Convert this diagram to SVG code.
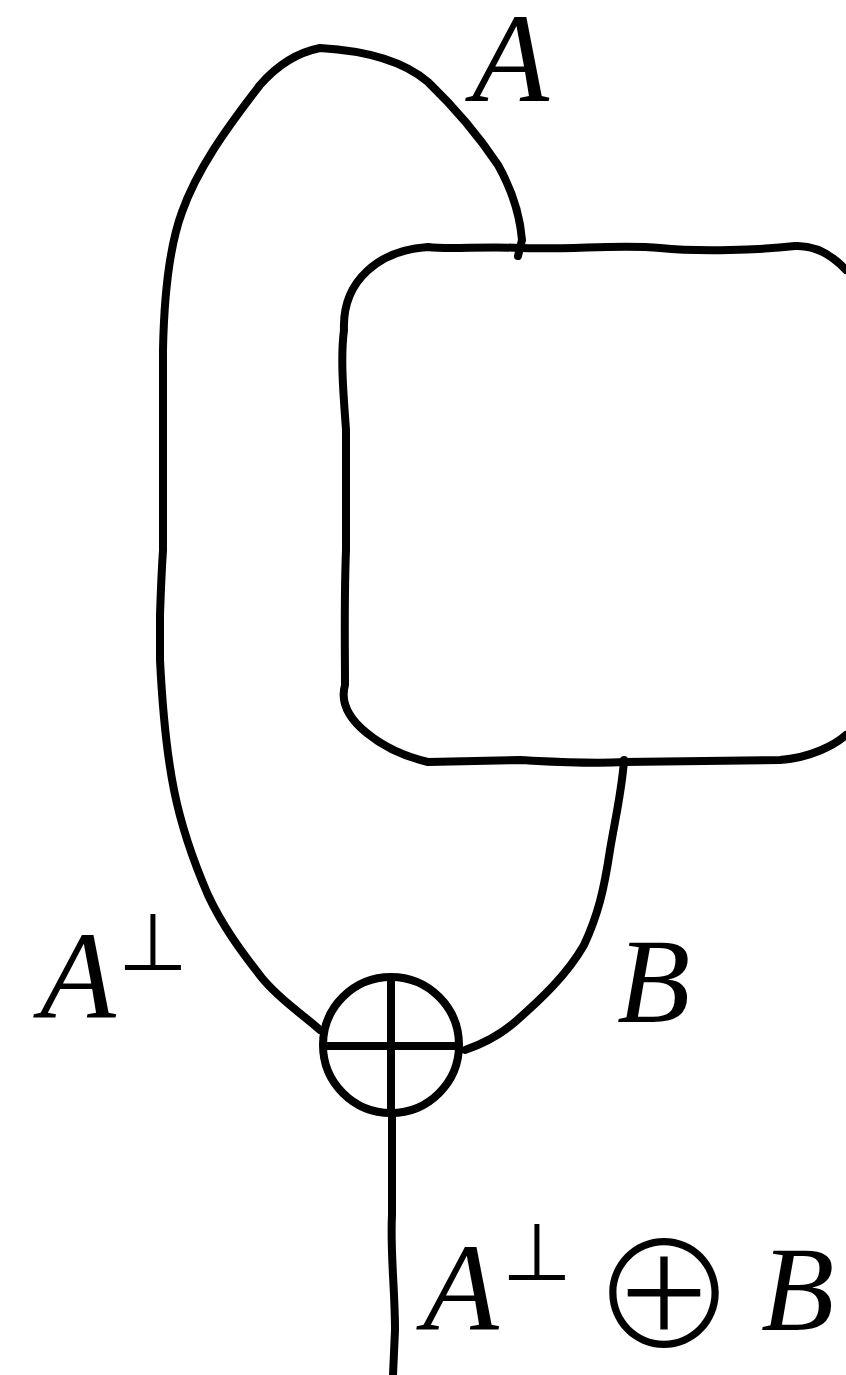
<svg xmlns="http://www.w3.org/2000/svg" width="846" height="1375" viewBox="0 0 846 1375">
<style>
.w{fill:none;stroke:#000;stroke-width:8;stroke-linecap:round;stroke-linejoin:round}
.m{font-family:"Liberation Serif",serif;font-style:italic;fill:#000}
.s{font-family:"DejaVu Sans",sans-serif;fill:#000}
.o{font-family:"Noto Sans CJK JP",sans-serif;font-weight:300;fill:#000}
</style>
<rect width="846" height="1375" fill="#fff"/>
<g id="connectors">
<path class="w" d="M320,1030 C300,1012 280,1000 262,978 C240,950 222,925 208,895 C195,865 182,830 174,790 C165,745 162,700 160,660 L160,615 C161,585 162,565 163,550 L163,350 C164,300 168,250 182,212 C197,170 225,130 260,85 C280,62 300,52 320,48 C355,50 400,58 428,82 C455,108 478,135 498,165 C512,190 520,215 522,240 L518,256"/>
<path class="w" d="M624,760 C622,790 615,820 610,850 C604,890 598,915 584,945 C567,975 540,1000 515,1022 C500,1035 485,1043 465,1050"/>
<path class="w" d="M392,1115 L392,1215 C390,1250 395,1290 395,1330 L393,1375"/>
</g>
<g id="loop">
<path class="w" d="M846,270 C832,255 815,245 795,246 C760,250 700,252 660,248 C620,244 570,250 520,248 C480,246 450,250 428,247 C380,250 342,280 344,330 C340,360 344,400 346,430 L346,550 C344,600 345,650 345,685 C335,720 385,752 428,762 L520,760 C560,762 590,764 624,762 L780,760 C810,758 835,745 846,735"/>
</g>
<g id="oplus">
<circle cx="391" cy="1045" r="68" fill="none" stroke="#000" stroke-width="8"/>
<line x1="323" y1="1046" x2="459" y2="1046" stroke="#000" stroke-width="8"/>
<line x1="391" y1="978" x2="391" y2="1113" stroke="#000" stroke-width="8"/>
</g>
<g id="labels">
<text class="m" x="472" y="101" font-size="126">A</text>
<text class="m" x="617" y="1022" font-size="120">B</text>
<text class="m" x="40" y="1018" font-size="124">A</text>
<text class="s" x="118" y="970" font-size="80">⊥</text>
<text class="m" x="423" y="1330" font-size="124">A</text>
<text class="s" x="502" y="1280" font-size="80">⊥</text>
<text class="o" x="590" y="1349" font-size="148">⊕</text>
<text class="m" x="761" y="1330" font-size="120">B</text>
</g>
</svg>
